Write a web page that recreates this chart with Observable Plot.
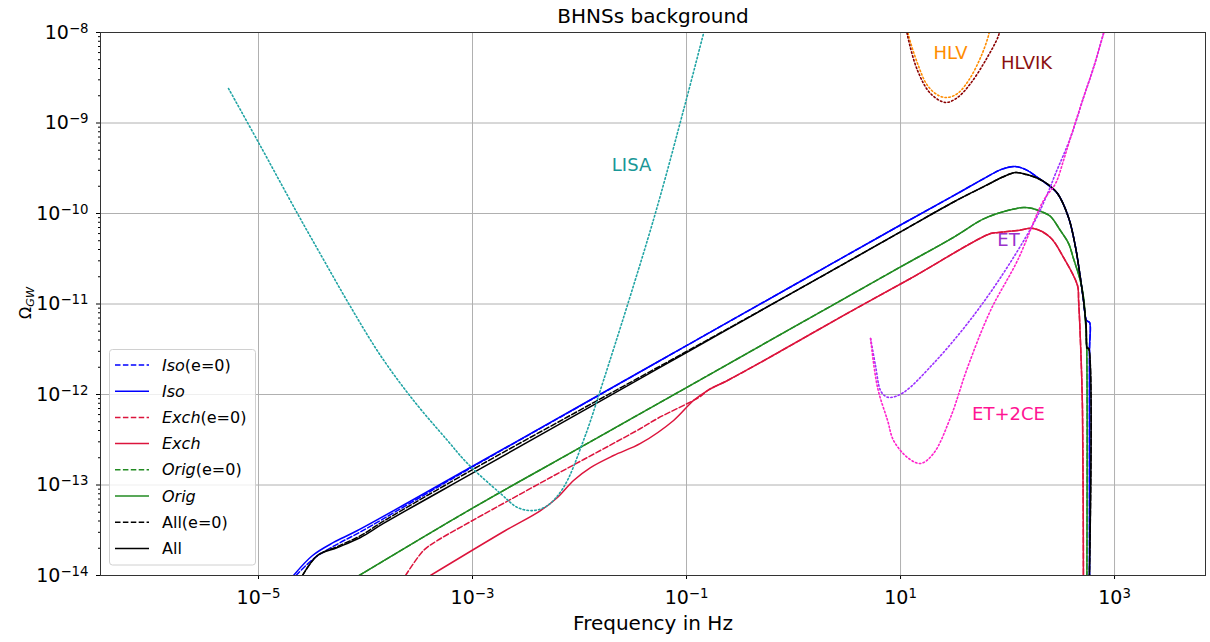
<!DOCTYPE html>
<html>
<head>
<meta charset="utf-8">
<script src="https://cdn.jsdelivr.net/npm/d3@7"></script>
<script src="https://cdn.jsdelivr.net/npm/@observablehq/plot@0.6"></script>
<style>
  body { margin: 0; background: #fff; }
  #chart svg { display: block; }
</style>
</head>
<body>
<div id="chart"></div>
<script>
// Every curve point is [log10 f (Hz), log10 Ω_GW].

// Isolated channel
const isoE0 = [[-4.65,-14.0],[-4.47,-13.80],[-4.25,-13.645],[-4.05,-13.52],[-3,-12.80],[-2,-12.13],[-1,-11.46],[0,-10.793],[1,-10.127],[1.5,-9.80],[1.8,-9.60],[1.95,-9.51],[2.07,-9.48],[2.18,-9.52],[2.28,-9.602],[2.374,-9.68],[2.467,-9.779],[2.57,-10.044],[2.636,-10.376],[2.68,-10.707],[2.71,-10.961],[2.738,-11.182],[2.766,-11.204],[2.766,-11.514],[2.766,-14.5]];
const iso = [[-4.673,-14.0],[-4.495,-13.779],[-4.299,-13.635],[-4.075,-13.503],[-3,-12.793],[-2,-12.127],[-1,-11.46],[0,-10.793],[1,-10.127],[1.5,-9.80],[1.8,-9.60],[1.95,-9.51],[2.07,-9.48],[2.18,-9.52],[2.28,-9.602],[2.374,-9.68],[2.467,-9.779],[2.57,-10.044],[2.636,-10.376],[2.68,-10.707],[2.71,-10.961],[2.738,-11.182],[2.766,-11.204],[2.766,-11.514],[2.766,-14.5]];

// Exchange channel
const exchE0 = [[-3.626,-14.0],[-3.458,-13.724],[-3.327,-13.613],[-3.084,-13.448],[-2.271,-12.917],[-1.430,-12.376],[-1.271,-12.265],[-0.869,-12.02],[-0.804,-11.956],[-0.617,-11.845],[-0.308,-11.646],[0.477,-11.12],[1.093,-10.718],[1.841,-10.221],[1.916,-10.21],[2.093,-10.188],[2.243,-10.166],[2.40,-10.265],[2.523,-10.486],[2.654,-10.796],[2.664,-10.961],[2.68,-11.37],[2.70,-12.14],[2.71,-14.5]];
const exch = [[-3.393,-14.0],[-2.692,-13.503],[-2.364,-13.282],[-2.206,-13.138],[-2.056,-12.950],[-1.897,-12.807],[-1.682,-12.674],[-1.430,-12.541],[-1.121,-12.287],[-0.935,-12.066],[-0.804,-11.956],[-0.617,-11.845],[-0.308,-11.646],[0.477,-11.12],[1.093,-10.718],[1.841,-10.221],[1.916,-10.21],[2.093,-10.188],[2.243,-10.166],[2.40,-10.265],[2.523,-10.486],[2.654,-10.796],[2.664,-10.961],[2.68,-11.37],[2.70,-12.14],[2.71,-14.5]];

// Original channel
const origE0 = [[-4.13,-14.05],[-3,-13.256],[-2,-12.59],[-1,-11.923],[0,-11.256],[1,-10.59],[1.5,-10.26],[1.776,-10.06],[2.0,-9.967],[2.15,-9.934],[2.234,-9.945],[2.336,-9.989],[2.40,-10.03],[2.495,-10.19],[2.57,-10.33],[2.617,-10.50],[2.68,-10.74],[2.71,-10.93],[2.729,-11.2],[2.74,-11.5],[2.74,-14.5]];
const orig = [[-4.13,-14.05],[-3,-13.256],[-2,-12.59],[-1,-11.923],[0,-11.256],[1,-10.59],[1.5,-10.26],[1.776,-10.06],[2.0,-9.967],[2.15,-9.934],[2.234,-9.945],[2.336,-9.989],[2.40,-10.03],[2.495,-10.19],[2.57,-10.33],[2.617,-10.50],[2.68,-10.74],[2.71,-10.93],[2.729,-11.2],[2.74,-11.5],[2.74,-14.5]];

// All channels combined
const allE0 = [[-4.589,-14.0],[-4.449,-13.779],[-4.262,-13.68],[-4.047,-13.56],[-3.832,-13.40],[-3,-12.83],[-2,-12.175],[-1,-11.525],[0,-10.869],[1,-10.203],[1.5,-9.87],[1.8,-9.69],[1.95,-9.60],[2.075,-9.547],[2.18,-9.57],[2.28,-9.61],[2.374,-9.675],[2.467,-9.779],[2.57,-10.044],[2.636,-10.376],[2.68,-10.707],[2.71,-10.961],[2.735,-11.25],[2.745,-11.49],[2.757,-11.49],[2.757,-14.5]];
const all = [[-4.589,-14.0],[-4.449,-13.779],[-4.262,-13.69],[-4.047,-13.58],[-3.832,-13.425],[-3,-12.869],[-2,-12.203],[-1,-11.536],[0,-10.869],[1,-10.203],[1.5,-9.87],[1.8,-9.69],[1.95,-9.60],[2.075,-9.547],[2.18,-9.57],[2.28,-9.61],[2.374,-9.675],[2.467,-9.779],[2.57,-10.044],[2.636,-10.376],[2.68,-10.707],[2.71,-10.961],[2.735,-11.25],[2.745,-11.49],[2.757,-11.49],[2.757,-14.5]];

// Detector sensitivity curves
const lisa = [[-5.280,-8.619],[-5.0,-9.215],[-4.636,-10.0],[-4.393,-10.508],[-4.14,-11.03],[-3.86,-11.569],[-3.551,-12.066],[-3.234,-12.508],[-3.047,-12.762],[-2.738,-13.094],[-2.579,-13.249],[-2.43,-13.282],[-2.299,-13.227],[-2.150,-13.028],[-1.963,-12.508],[-1.776,-11.845],[-1.308,-10.066],[-1.009,-8.773],[-0.841,-8.011],[-0.82,-7.92]];
const hlv = [[1.056,-7.92],[1.075,-8.033],[1.159,-8.343],[1.252,-8.586],[1.355,-8.696],[1.439,-8.718],[1.533,-8.674],[1.636,-8.53],[1.748,-8.276],[1.822,-8.033],[1.84,-7.92]];
const hlvik = [[1.05,-7.92],[1.065,-8.033],[1.159,-8.42],[1.28,-8.674],[1.421,-8.773],[1.533,-8.718],[1.654,-8.564],[1.794,-8.309],[1.916,-8.033],[1.935,-7.92]];
const et = [[0.72,-11.381],[0.766,-11.68],[0.813,-11.956],[0.86,-12.02],[0.907,-12.033],[1.028,-11.978],[1.308,-11.657],[1.626,-11.215],[1.935,-10.707],[2.243,-10.11],[2.374,-9.779],[2.449,-9.558],[2.589,-9.16],[2.71,-8.718],[2.804,-8.387],[2.897,-8.011],[2.92,-7.92]];
const et2ce = [[0.72,-11.381],[0.785,-11.923],[0.879,-12.287],[0.935,-12.508],[1.065,-12.696],[1.187,-12.762],[1.308,-12.652],[1.467,-12.254],[1.626,-11.702],[1.841,-11.072],[2.093,-10.519],[2.336,-9.856],[2.449,-9.668],[2.523,-9.414],[2.589,-9.16],[2.71,-8.718],[2.804,-8.387],[2.897,-8.011],[2.92,-7.92]];

// Detector labels: name, log10 f, log10 Ω of the label centre
const detectorNames = ["LISA", "HLV", "HLVIK", "ET", "ET+2CE"];
const detectorLabelF = [-1.514, 1.467, 2.178, 2.009, 2.009];
const detectorLabelOmega = [-9.47, -8.232, -8.343, -10.298, -12.22];

// Axis ticks (labelled decades)
const xTicks = [1e-5, 1e-3, 1e-1, 1e1, 1e3];
const yTicks = [1e-14, 1e-13, 1e-12, 1e-11, 1e-10, 1e-9, 1e-8];

const title = "BHNSs background";
const xLabel = "Frequency in Hz";

// Line styles
const DASH = "5.5,2.4";
const DOT = "1.5,2.4";
const series = [
  {data: isoE0, name: "Iso", italic: true, suffix: "(e=0)", color: "#0000ff", dash: DASH},
  {data: iso, name: "Iso", italic: true, suffix: "", color: "#0000ff", dash: null},
  {data: exchE0, name: "Exch", italic: true, suffix: "(e=0)", color: "#dc143c", dash: DASH},
  {data: exch, name: "Exch", italic: true, suffix: "", color: "#dc143c", dash: null},
  {data: origE0, name: "Orig", italic: true, suffix: "(e=0)", color: "#228b22", dash: DASH},
  {data: orig, name: "Orig", italic: true, suffix: "", color: "#228b22", dash: null},
  {data: allE0, name: "All", italic: false, suffix: "(e=0)", color: "#000000", dash: DASH},
  {data: all, name: "All", italic: false, suffix: "", color: "#000000", dash: null}
];
const detectors = [
  {data: lisa, color: "#20a4a4", labelColor: "#1a9797"},
  {data: hlv, color: "#ff8c00", labelColor: "#ff8c00"},
  {data: hlvik, color: "#8b0000", labelColor: "#8b1010"},
  {data: et, color: "#9b30ff", labelColor: "#9932cc"},
  {data: et2ce, color: "#ff22cc", labelColor: "#ff1493"}
];

const fx = d => 10 ** d[0];
const fy = d => 10 ** d[1];

const minorY = [];
for (let e = -14; e < -8; e++) for (let k = 2; k <= 9; k++) minorY.push(k * 10 ** e);

const expFmt = d => "10^" + Math.round(Math.log10(d));

const chart = Plot.plot({
  width: 1210,
  height: 642,
  marginLeft: 100,
  marginRight: 5,
  marginTop: 32,
  marginBottom: 67,
  style: {fontFamily: '"DejaVu Sans", sans-serif', fontSize: "19px", background: "#fff", color: "#000"},
  x: {type: "log", domain: [10 ** -6.4766, 10 ** 3.85]},
  y: {type: "log", domain: [1e-14, 1e-8]},
  marks: [
    Plot.gridX(xTicks, {stroke: "#b0b0b0", strokeOpacity: 1, strokeWidth: 1}),
    Plot.gridY(yTicks, {stroke: "#b0b0b0", strokeOpacity: 1, strokeWidth: 1}),
    ...series.map(s => Plot.line(s.data, {
      x: fx, y: fy, stroke: s.color, strokeWidth: 1.5, curve: "catmull-rom",
      strokeDasharray: s.dash ?? undefined, clip: true
    })),
    ...detectors.map(s => Plot.line(s.data, {
      x: fx, y: fy, stroke: s.color, strokeWidth: 1.6, curve: "catmull-rom",
      strokeDasharray: DOT, clip: true
    })),
    Plot.text(detectorNames, {
      x: (d, i) => 10 ** detectorLabelF[i],
      y: (d, i) => 10 ** detectorLabelOmega[i],
      text: d => d,
      fill: (d, i) => detectors[i].labelColor,
      fontSize: 18
    }),
    Plot.text([title], {frameAnchor: "top", lineAnchor: "middle", text: d => d, dy: -16, fontSize: 20}),
    Plot.text([xLabel], {frameAnchor: "bottom", lineAnchor: "middle", text: d => d, dy: 48, fontSize: 20}),
    Plot.axisX(xTicks, {tickSize: 4, tickPadding: 11, tickFormat: expFmt, label: null}),
    Plot.axisY(yTicks, {tickSize: 4, tickPadding: 8, tickFormat: expFmt, label: null}),
    Plot.axisY(minorY, {tickSize: 2, tickFormat: () => "", label: null}),
    Plot.frame({stroke: "#333", strokeWidth: 1})
  ]
});

document.getElementById("chart").appendChild(chart);
const svg = d3.select(chart);

// Superscript exponents in tick labels
svg.selectAll('g[aria-label="x-axis tick label"] text, g[aria-label="y-axis tick label"] text').each(function () {
  const t = this.textContent;
  if (!t.includes("^")) return;
  const [base, exp] = t.split("^");
  const sel = d3.select(this);
  sel.text(base);
  sel.append("tspan").attr("dy", "-0.45em").attr("font-size", "0.7em").text(exp.replace("-", "\u2212"));
});

// Y axis label Ω_GW
const yl = svg.append("text")
  .attr("transform", "translate(31,303) rotate(-90)")
  .attr("text-anchor", "middle")
  .attr("font-size", 16)
  .attr("fill", "#000");
yl.append("tspan").text("Ω");
yl.append("tspan").attr("font-size", "0.7em").attr("font-style", "italic").attr("dy", "0.3em").text("GW");

// Legend
const lg = svg.append("g")
  .attr("font-size", 16)
  .attr("font-family", '"DejaVu Sans", sans-serif')
  .attr("text-anchor", "start");
lg.append("rect")
  .attr("x", 109.5).attr("y", 349.5).attr("width", 146).attr("height", 215.5).attr("rx", 3)
  .attr("fill", "#fff").attr("fill-opacity", 0.8).attr("stroke", "#d0d0d0");
series.forEach((s, i) => {
  const y = 365 + i * 26.2;
  lg.append("line")
    .attr("x1", 115).attr("x2", 149).attr("y1", y).attr("y2", y)
    .attr("stroke", s.color).attr("stroke-width", 1.5)
    .attr("stroke-dasharray", s.dash);
  const t = lg.append("text").attr("x", 162).attr("y", y).attr("dy", "0.35em").attr("fill", "#000");
  t.append("tspan").attr("font-style", s.italic ? "italic" : "normal").text(s.name);
  if (s.suffix) t.append("tspan").attr("font-style", "normal").text(s.suffix);
});
</script>
</body>
</html>
